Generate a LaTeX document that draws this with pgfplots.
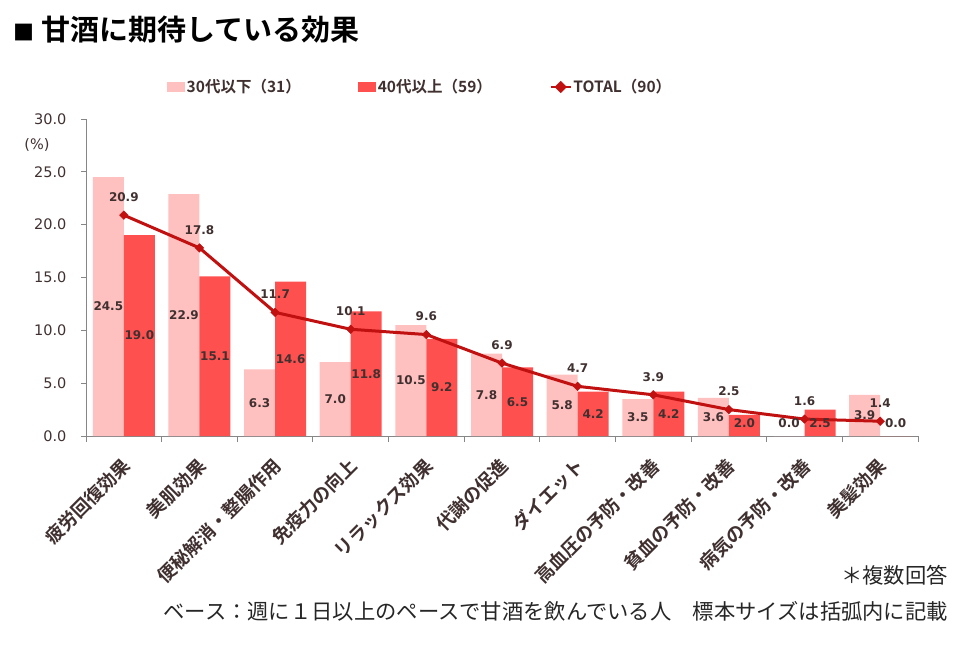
\documentclass[border=0pt]{standalone}
\usepackage{fontspec}
\usepackage{pgfplots}
\pgfplotsset{compat=1.18}
\usepackage{pgfplotstable}
\setmainfont{DejaVu Sans}
\newfontfamily\jp{Noto Sans CJK JP}
\newfontfamily\jpb{Noto Sans CJK JP Bold}
\newfontfamily\num{DejaVu Sans}
\newfontfamily\numb{DejaVu Sans Bold}
\definecolor{pinkbar}{RGB}{255,192,192}
\definecolor{redbar}{RGB}{255,80,80}
\definecolor{linered}{RGB}{192,16,16}
\definecolor{txt}{RGB}{64,48,48}
\definecolor{axgray}{RGB}{134,134,134}
\pgfplotstableread{
x a b t
0 24.5 19.0 20.9
1 22.9 15.1 17.8
2 6.3 14.6 11.7
3 7.0 11.8 10.1
4 10.5 9.2 9.6
5 7.8 6.5 6.9
6 5.8 4.2 4.7
7 3.5 4.2 3.9
8 3.6 2.0 2.5
9 0.0 2.5 1.6
10 3.9 0.0 1.4
}\data
\begin{document}
\begin{tikzpicture}[x=1pt,y=1pt]
\useasboundingbox (0,0) rectangle (960,651);
\begin{axis}[
  at={(86pt,215pt)}, anchor=south west,
  scale only axis, width=832pt, height=317pt,
  xmin=-0.5, xmax=10.5, ymin=0, ymax=30,
  axis x line*=bottom, axis y line*=left,
  axis line style={draw=axgray, line width=1pt},
  tick align=outside,
  major tick length=5pt,
  minor tick length=6pt,
  tick style={draw=axgray, line width=1pt},
  xtick={0,...,10},
  major x tick style={draw=none},
  minor xtick={-0.5,0.5,...,10.5},
  xticklabels={疲労回復効果,美肌効果,便秘解消・整腸作用,免疫力の向上,リラックス効果,代謝の促進,ダイエット,高血圧の予防・改善,貧血の予防・改善,病気の予防・改善,美髪効果},
  xticklabel style={font=\jpb\fontsize{18.5}{20}\selectfont, text=txt, inner sep=0pt, xshift=3pt, yshift=-21pt, rotate=45, anchor=east},
  ytick={0,5,...,30},
  yticklabel style={font=\num\fontsize{14.5}{16}\selectfont, text=txt, xshift=-11pt},
  /pgf/number format/fixed,
  /pgf/number format/fixed zerofill,
  /pgf/number format/precision=1,
  /pgf/number format/assume math mode=true,
  legend columns=3,
  legend style={at={(0.0974,1.101)}, anchor=west, draw=none, fill=none, inner sep=0pt,
    font=\jpb\fontsize{15.5}{17}\selectfont, text=txt,
    /tikz/every even column/.append style={column sep=56pt},
    nodes={inner sep=1.5pt}},
  clip=false,
]
\addplot[ybar, bar width=31pt, bar shift=-15.5pt, fill=pinkbar, draw=none,
  legend image code/.code={\fill[pinkbar] (0pt,-5pt) rectangle (18pt,5pt);}]
  table[x=x,y=a]{\data};
\addlegendentry{30代以下（31）}
\addplot[ybar, bar width=31pt, bar shift=15.5pt, fill=redbar, draw=none,
  legend image code/.code={\fill[redbar] (0pt,-5pt) rectangle (18pt,5pt);}]
  table[x=x,y=b]{\data};
\addlegendentry{40代以上（59）}
\addplot[linered, line width=3pt, mark=square*, mark size=3pt,
  mark options={rotate=45, fill=linered, draw=linered, line width=0.5pt},
  nodes near coords,
  every node near coord/.append style={anchor=center, yshift=18pt, font=\numb\fontsize{12}{13}\selectfont, text=txt},
  legend image code/.code={\draw[linered, line width=2.5pt] (0pt,0pt) -- (20pt,0pt);
     \fill[linered] (6pt,0pt) -- (10pt,4pt) -- (14pt,0pt) -- (10pt,-4pt) -- cycle;}]
  table[x=x,y=t]{\data};
\addlegendentry{TOTAL（90）}
\addplot[draw=none, mark=none, forget plot, nodes near coords, point meta=explicit,
  every node near coord/.append style={xshift=-15.5pt, anchor=center, font=\numb\fontsize{12}{13}\selectfont, text=txt}]
  table[x=x, y expr={max(\thisrow{a}/2,1.25)}, meta=a]{\data};
\addplot[draw=none, mark=none, forget plot, nodes near coords, point meta=explicit,
  every node near coord/.append style={xshift=15.5pt, anchor=center, font=\numb\fontsize{12}{13}\selectfont, text=txt}]
  table[x=x, y expr={max(\thisrow{b}/2,1.25)}, meta=b]{\data};
\end{axis}
\node[anchor=center, font=\num\fontsize{14.5}{16}\selectfont, text=txt, inner sep=0pt] at (37,506) {(\%)};
\node[anchor=west, font=\jpb\fontsize{29}{32}\selectfont, inner sep=0pt] at (13,621) {{\fontsize{21}{21}\selectfont ■}\hspace{7pt}甘酒に期待している効果};
\node[anchor=east, font=\jp\fontsize{21.3}{24}\selectfont, text=black!85, inner sep=0pt] at (948,76) {＊複数回答};
\node[anchor=east, font=\jp\fontsize{21.3}{24}\selectfont, text=black!85, inner sep=0pt] at (948,40) {ベース：週に１日以上のペースで甘酒を飲んでいる人　標本サイズは括弧内に記載};
\end{tikzpicture}
\end{document}
